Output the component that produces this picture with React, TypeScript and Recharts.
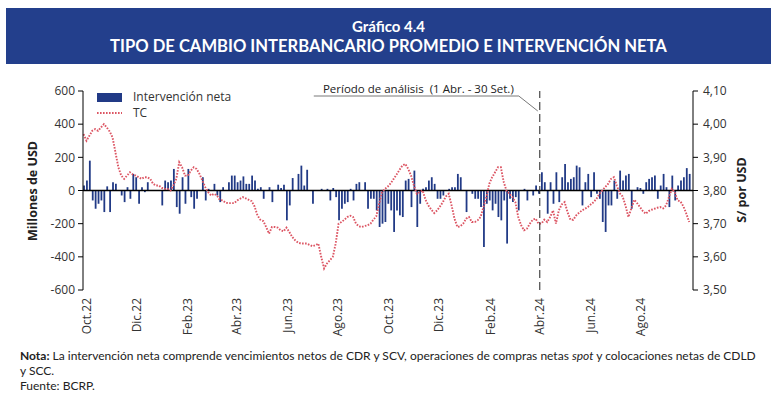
import { ComposedChart, Bar, Line, XAxis, YAxis, ReferenceLine } from 'recharts'

// half-weekly samples starting 28 Sep 2022 (one value every 3.5 days)
const START = Date.UTC(2022, 8, 28)
const STEP_DAYS = 3.5

const tickDates = [
  '2022-10-01', '2022-12-01', '2023-02-01', '2023-04-01', '2023-06-01', '2023-08-01',
  '2023-10-01', '2023-12-01', '2024-02-01', '2024-04-01', '2024-06-01', '2024-08-01',
]
const tickLabels = [
  'Oct.22', 'Dic.22', 'Feb.23', 'Abr.23', 'Jun.23', 'Ago.23',
  'Oct.23', 'Dic.23', 'Feb.24', 'Abr.24', 'Jun.24', 'Ago.24',
]
const leftTicks = [-600, -400, -200, 0, 200, 400, 600]
const rightTicks = [3.5, 3.6, 3.7, 3.8, 3.9, 4.0, 4.1]
const analysisStart = '2024-04-01'

// Intervención neta (millones de USD)
const intervention = [
  30, 60, 180, -60, -110, -80, -60, -130, 25, -130,
  50, 40, 0, -30, -70, 20, -50, 100, 80, -80,
  20, -10, 50, 0, 0, 0, 0, -90, 60, 50,
  60, 130, -100, -140, 80, -80, 130, -40, -110, -50,
  0, 80, -60, 10, 0, 40, -30, -70, 20, 0,
  50, 90, 90, 50, 60, 85, 40, 40, 90, 60,
  10, 20, -50, 0, 20, -70, 0, 35, 15, 35,
  -180, -90, 75, 0, 100, 150, 30, 125, 0, -80,
  0, 0, 10, 0, 10, -60, 15, -40, -180, -110,
  -80, -70, 10, -60, 40, 50, 0, 50, -110, -50,
  -50, -120, -220, -200, -190, -80, -120, -250, -120, -150,
  -160, 60, 70, -100, 120, -220, -80, 10, 20, 60,
  80, 40, -50, -50, -30, 0, 10, 20, 20, 100,
  80, 0, -130, 0, -20, -50, -50, -100, -340, -80,
  -60, -120, -80, -160, -180, -60, -320, -50, -70, -40,
  -120, 0, 10, -60, 0, -30, 30, -20, 110, 50,
  -140, 50, -80, 110, -70, 80, 160, 50, 70, 80,
  150, 140, -90, 50, 100, -40, 110, -20, -50, -190,
  -250, -90, -90, 60, -50, 120, 60, 90, 100, -110,
  0, 20, 15, -20, 50, 70, 80, 90, -50, 30,
  100, 20, -100, 90, -60, 30, 60, 80, 135, 100,
]

// TC (S/ por USD)
const tc = [
  3.97, 3.95, 3.965, 3.98, 3.985, 3.98, 3.99, 4.0, 3.99, 3.978,
  3.96, 3.915, 3.87, 3.845, 3.835, 3.845, 3.855, 3.848, 3.845, 3.84,
  3.835, 3.84, 3.84, 3.835, 3.82, 3.815, 3.815, 3.808, 3.805, 3.805,
  3.8, 3.815, 3.835, 3.885, 3.87, 3.845, 3.845, 3.86, 3.87, 3.865,
  3.85, 3.83, 3.81, 3.795, 3.785, 3.79, 3.785, 3.772, 3.77, 3.763,
  3.762, 3.762, 3.762, 3.77, 3.775, 3.78, 3.776, 3.772, 3.768, 3.752,
  3.725, 3.712, 3.708, 3.69, 3.67, 3.69, 3.69, 3.688, 3.68, 3.677,
  3.688, 3.675, 3.66, 3.65, 3.643, 3.64, 3.64, 3.64, 3.636, 3.632,
  3.635, 3.64, 3.6, 3.565, 3.58, 3.59, 3.6, 3.64, 3.7, 3.705,
  3.712, 3.72, 3.724, 3.72, 3.7, 3.692, 3.69, 3.693, 3.695, 3.7,
  3.712, 3.722, 3.76, 3.795, 3.805, 3.812, 3.822, 3.835, 3.848, 3.862,
  3.875, 3.88, 3.866, 3.845, 3.815, 3.79, 3.795, 3.8, 3.772, 3.755,
  3.742, 3.732, 3.74, 3.752, 3.765, 3.782, 3.79, 3.755, 3.715, 3.69,
  3.692, 3.7, 3.715, 3.72, 3.705, 3.705, 3.71, 3.72, 3.75, 3.78,
  3.82, 3.84, 3.855, 3.87, 3.87, 3.825, 3.798, 3.79, 3.78, 3.765,
  3.72, 3.695, 3.68, 3.685, 3.7, 3.712, 3.715, 3.7, 3.7, 3.712,
  3.705, 3.72, 3.74, 3.7, 3.74, 3.758, 3.765, 3.735, 3.712, 3.712,
  3.725, 3.733, 3.74, 3.745, 3.75, 3.758, 3.765, 3.775, 3.79, 3.8,
  3.81, 3.82, 3.835, 3.84, 3.815, 3.792, 3.782, 3.755, 3.72, 3.745,
  3.772, 3.762, 3.75, 3.738, 3.73, 3.738, 3.742, 3.745, 3.748, 3.75,
  3.746, 3.755, 3.78, 3.805, 3.795, 3.77, 3.767, 3.752, 3.73, 3.705,
]

const toIndex = (d: string) => (Date.parse(d + 'T00:00:00Z') - START) / 86400000 / STEP_DAYS

const tickPositions = tickDates.map(toIndex)
const data = tc.map((v, i) => ({ t: i, tc: v, iv: intervention[i] }))

const BAR_COLOR = '#213a86'
const TC_COLOR = '#dc5563'
const FONT = '"Open Sans", sans-serif'

const MonthTick = ({ x, y, payload }: any) => {
  let k = 0
  tickPositions.forEach((p, j) => {
    if (Math.abs(p - payload.value) < Math.abs(tickPositions[k] - payload.value)) k = j
  })
  return (
    <text
      x={x}
      y={y}
      transform={`rotate(-90 ${x} ${y})`}
      textAnchor="end"
      dominantBaseline="central"
      fontSize={12}
      fontFamily={FONT}
      fill="#333"
    >
      {tickLabels[k]}
    </text>
  )
}

const AnalysisLabel = ({ viewBox }: any) => {
  const x = viewBox.x
  const y = viewBox.y
  return (
    <g>
      <text
        x={x - 26}
        y={y + 2}
        textAnchor="end"
        fontSize={11.5}
        fontFamily={FONT}
        fill="#222"
        style={{ whiteSpace: 'pre' }}
      >
        {'Período de análisis  (1 Abr. - 30 Set.)'}
      </text>
      <polyline
        points={`${x - 226},${y + 5} ${x - 21},${y + 5} ${x - 2},${y + 20}`}
        fill="none"
        stroke="#555"
        strokeWidth={0.8}
      />
    </g>
  )
}

export default function App() {
  return (
    <div style={{ position: 'absolute', left: 0, top: 0, width: 776, height: 397, background: '#fff', fontFamily: FONT }}>
      <div
        style={{
          position: 'absolute', left: 6, top: 8, width: 765, height: 56,
          background: '#233f8c', color: '#fff', textAlign: 'center',
          fontFamily: 'Lato, sans-serif', fontWeight: 700,
        }}
      >
        <div style={{ fontSize: 15, lineHeight: '18px', marginTop: 9 }}>Gráfico 4.4</div>
        <div style={{ fontSize: 16.6, lineHeight: '20px', marginTop: 1 }}>
          TIPO DE CAMBIO INTERBANCARIO PROMEDIO E INTERVENCIÓN NETA
        </div>
      </div>

      <div style={{ position: 'absolute', left: 0, top: 70 }}>
        <ComposedChart width={776} height={270} data={data} margin={{ top: 21, right: 0, bottom: 0, left: 0 }}>
          <XAxis
            dataKey="t"
            type="number"
            domain={[-0.2, 210.3]}
            ticks={tickPositions}
            interval={0}
            axisLine={false}
            tickLine={false}
            tickSize={6}
            tickMargin={2}
            height={50}
            tick={<MonthTick />}
          />
          <YAxis
            yAxisId="left"
            domain={[-600, 600]}
            ticks={leftTicks}
            interval={0}
            width={83}
            axisLine={{ stroke: '#000' }}
            tickLine={{ stroke: '#000' }}
            tickSize={5}
            tickMargin={3}
            tick={{ fontSize: 12, fill: '#333', fontFamily: FONT }}
          />
          <YAxis
            yAxisId="right"
            orientation="right"
            domain={[3.5, 4.1]}
            ticks={rightTicks}
            interval={0}
            width={83}
            axisLine={{ stroke: '#000' }}
            tickLine={{ stroke: '#000' }}
            tickSize={5}
            tickMargin={5}
            tickFormatter={(v: number) => v.toFixed(2).replace('.', ',')}
            tick={{ fontSize: 12, fill: '#333', fontFamily: FONT }}
          />
          <Bar yAxisId="left" dataKey="iv" fill={BAR_COLOR} barSize={1.8} isAnimationActive={false} />
          <ReferenceLine yAxisId="left" y={0} stroke="#000" strokeWidth={1.3} />
          <Line
            yAxisId="right"
            dataKey="tc"
            type="linear"
            stroke={TC_COLOR}
            strokeWidth={1.9}
            strokeDasharray="1.6 1.4"
            dot={false}
            isAnimationActive={false}
          />
          <ReferenceLine
            yAxisId="left"
            x={toIndex(analysisStart)}
            stroke="#222"
            strokeWidth={1}
            strokeDasharray="8 4"
            label={<AnalysisLabel />}
          />
        </ComposedChart>
      </div>

      {/* legend */}
      <div style={{ position: 'absolute', left: 97, top: 93, width: 25, height: 9, background: BAR_COLOR }} />
      <div style={{ position: 'absolute', left: 133, top: 89, fontSize: 12, lineHeight: '15px', color: '#333', whiteSpace: 'nowrap' }}>
        Intervención neta
      </div>
      <svg style={{ position: 'absolute', left: 97, top: 109 }} width={26} height={8}>
        <line x1={0} y1={4} x2={25} y2={4} stroke={TC_COLOR} strokeWidth={1.9} strokeDasharray="1.6 1.4" />
      </svg>
      <div style={{ position: 'absolute', left: 133, top: 105, fontSize: 12, lineHeight: '15px', color: '#333' }}>TC</div>

      {/* axis titles */}
      <div
        style={{
          position: 'absolute', left: 32, top: 191, transform: 'translate(-50%, -50%) rotate(-90deg)',
          fontSize: 12.5, fontWeight: 700, color: '#222', whiteSpace: 'nowrap',
        }}
      >
        Millones de USD
      </div>
      <div
        style={{
          position: 'absolute', left: 741, top: 190, transform: 'translate(-50%, -50%) rotate(-90deg)',
          fontSize: 12.5, fontWeight: 700, color: '#222', whiteSpace: 'nowrap',
        }}
      >
        S/ por USD
      </div>

      {/* notes */}
      <div
        style={{
          position: 'absolute', left: 20, top: 348, fontFamily: 'Lato, sans-serif',
          fontSize: 12, lineHeight: '15px', color: '#222', whiteSpace: 'nowrap',
        }}
      >
        <div>
          <b>Nota:</b> La intervención neta comprende vencimientos netos de CDR y SCV, operaciones de compras netas{' '}
          <i>spot</i> y colocaciones netas de CDLD
        </div>
        <div>y SCC.</div>
        <div>Fuente: BCRP.</div>
      </div>
    </div>
  )
}
